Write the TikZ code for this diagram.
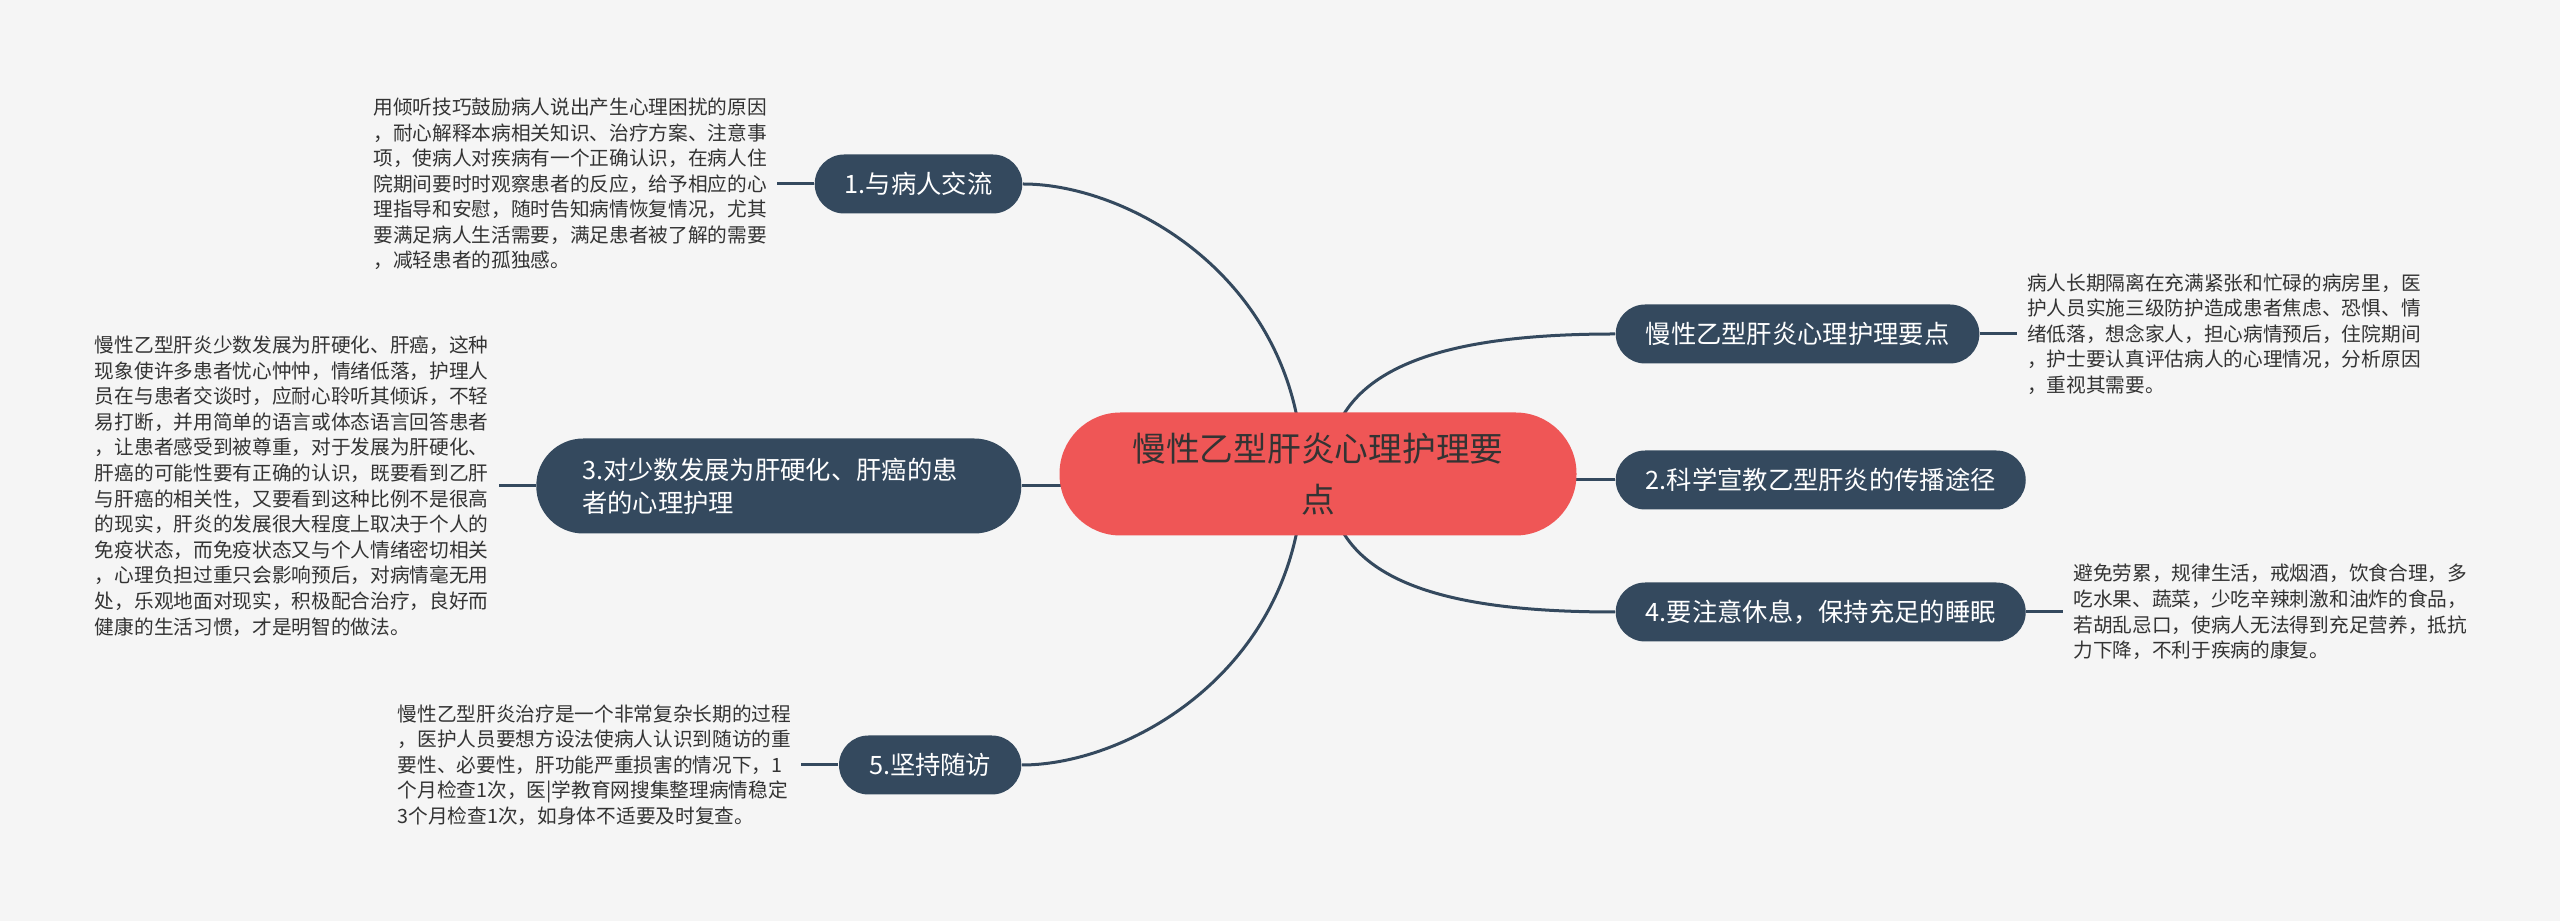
\documentclass[tikz,border=0pt]{standalone}
\usepackage{fontspec}
\setmainfont{Noto Sans CJK SC}
\usetikzlibrary{positioning,backgrounds}
\definecolor{bgcol}{HTML}{F5F5F5}
\definecolor{rootred}{HTML}{EF5656}
\definecolor{navy}{HTML}{34495E}
\definecolor{txtgray}{HTML}{333333}

\begin{document}
\begin{tikzpicture}[x=0.1mm, y=-0.1mm, node distance=3.7mm,
  link/.style={draw=navy, line width=0.3mm},
  root/.style={fill=rootred, text=txtgray, rounded corners=6.1mm, minimum height=12.3mm,
    text width=37.5mm, inner xsep=7.1mm, align=center, font=\fontsize{9.6}{14.5}\selectfont},
  topic/.style={fill=navy, text=white, rounded corners=2.95mm, minimum height=5.9mm,
    inner xsep=3mm, inner ysep=0pt, font=\fontsize{7.2}{9.4}\selectfont},
  note/.style={text=txtgray, align=left, inner xsep=1mm, inner ysep=0pt, outer sep=0pt,
    font=\fontsize{5.6}{7.28}\selectfont}]
  \useasboundingbox (0,0) rectangle (2560,921);

  \node[root] (c) at (1318,474) {慢性乙型肝炎心理护理要\\点};

  % left side
  \node[topic, anchor=east] (n1) at (1023,184) {1.与病人交流};
  \node[topic, anchor=east, rounded corners=4.7mm, minimum height=9.5mm, text width=39.3mm,
    inner xsep=4.6mm, align=left] (n3) at (1022,486) {3.对少数发展为肝硬化、肝癌的患\\者的心理护理};
  \node[topic, anchor=east] (n5) at (1022,765) {5.坚持随访};

  % right side
  \node[topic, anchor=west] (r1) at (1615,334) {慢性乙型肝炎心理护理要点};
  \node[topic, anchor=west] (n2) at (1615,480) {2.科学宣教乙型肝炎的传播途径};
  \node[topic, anchor=west] (n4) at (1615,612) {4.要注意休息，保持充足的睡眠};

  % notes
  \node[note, left=of n1] (l1) {用倾听技巧鼓励病人说出产生心理困扰的原因\\，耐心解释本病相关知识、治疗方案、注意事\\项，使病人对疾病有一个正确认识，在病人住\\院期间要时时观察患者的反应，给予相应的心\\理指导和安慰，随时告知病情恢复情况，尤其\\要满足病人生活需要，满足患者被了解的需要\\，减轻患者的孤独感。};
  \node[note, left=of n3] (l3) {慢性乙型肝炎少数发展为肝硬化、肝癌，这种\\现象使许多患者忧心忡忡，情绪低落，护理人\\员在与患者交谈时，应耐心聆听其倾诉，不轻\\易打断，并用简单的语言或体态语言回答患者\\，让患者感受到被尊重，对于发展为肝硬化、\\肝癌的可能性要有正确的认识，既要看到乙肝\\与肝癌的相关性，又要看到这种比例不是很高\\的现实，肝炎的发展很大程度上取决于个人的\\免疫状态，而免疫状态又与个人情绪密切相关\\，心理负担过重只会影响预后，对病情毫无用\\处，乐观地面对现实，积极配合治疗，良好而\\健康的生活习惯，才是明智的做法。};
  \node[note, left=of n5] (l5) {慢性乙型肝炎治疗是一个非常复杂长期的过程\\，医护人员要想方设法使病人认识到随访的重\\要性、必要性，肝功能严重损害的情况下，1\\个月检查1次，医|学教育网搜集整理病情稳定\\3个月检查1次，如身体不适要及时复查。};
  \node[note, right=of r1] (lr) {病人长期隔离在充满紧张和忙碌的病房里，医\\护人员实施三级防护造成患者焦虑、恐惧、情\\绪低落，想念家人，担心病情预后，住院期间\\，护士要认真评估病人的心理情况，分析原因\\，重视其需要。};
  \node[note, right=of n4] (l4) {避免劳累，规律生活，戒烟酒，饮食合理，多\\吃水果、蔬菜，少吃辛辣刺激和油炸的食品，\\若胡乱忌口，使病人无法得到充足营养，抵抗\\力下降，不利于疾病的康复。};

  \begin{scope}[on background layer]
    \fill[bgcol] (0,0) rectangle (2560,921);
    \draw[link] (n1.east) .. controls +(107,0) and +(-3,-194) .. ([xshift=-1.5mm]c.center);
    \draw[link] (n5.east) .. controls +(108,0) and +(-3,194) .. ([xshift=-1.5mm]c.center);
    \draw[link] ([xshift=1mm]c.center) .. controls +(0,-110) and +(-165,0) .. (r1.west);
    \draw[link] ([xshift=1mm]c.center) .. controls +(0,110) and +(-165,0) .. (n4.west);
    \draw[link] (n3.east) -- (n3.east -| c.center);
    \draw[link] (c.center |- n2.west) -- (n2.west);
    \draw[link] (n1.west) -- (l1.east);
    \draw[link] (n3.west) -- (l3.east);
    \draw[link] (n5.west) -- (l5.east);
    \draw[link] (r1.east) -- (lr.west);
    \draw[link] (n4.east) -- (l4.west);
  \end{scope}
\end{tikzpicture}
\end{document}
